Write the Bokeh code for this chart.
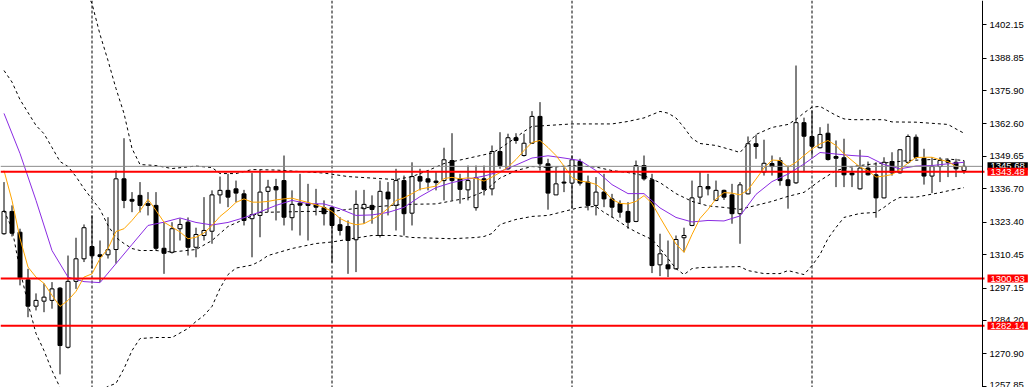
from bokeh.plotting import figure
from bokeh.models import Range1d, FixedTicker, PrintfTickFormatter, Span, Label, ColumnDataSource
from bokeh.embed import file_html
from bokeh.resources import INLINE

# ---------------- data ----------------
opens = [1318.8, 1327.7, 1319.4, 1300.4, 1289.9, 1291.9, 1292.2, 1297.1, 1273.5, 1299.8,
         1308.8, 1313.7, 1310.4, 1310.4, 1312.5, 1340.7, 1332.5, 1334.1, 1330.8, 1330.1,
         1313.0, 1311.4, 1320.8, 1323.4, 1313.4, 1318.1, 1319.8, 1334.3, 1336.1, 1336.7,
         1334.7, 1324.8, 1326.1, 1335.7, 1337.6, 1340.0, 1325.2, 1331.0, 1330.9, 1330.5,
         1329.2, 1329.2, 1322.4, 1321.7, 1316.4, 1328.8, 1330.1, 1318.1, 1335.4, 1330.1,
         1340.0, 1327.0, 1341.6, 1340.7, 1339.8, 1340.0, 1348.0, 1340.7, 1336.3, 1329.2,
         1340.7, 1336.7, 1351.6, 1344.7, 1357.1, 1350.0, 1354.9, 1365.6, 1346.7, 1334.3,
         1339.4, 1339.0, 1347.6, 1339.4, 1330.1, 1335.4, 1332.7, 1330.8, 1327.7, 1323.7,
         1346.0, 1340.3, 1306.4, 1306.4, 1304.8, 1317.2, 1322.1, 1333.4, 1337.6, 1332.1,
         1336.1, 1334.3, 1326.8, 1334.7, 1354.7, 1343.4, 1346.8, 1348.0, 1340.3, 1339.1,
         1363.1, 1357.6, 1353.1, 1358.9, 1349.6, 1349.1, 1343.0, 1336.7, 1345.0, 1342.3,
         1333.1, 1347.6, 1343.1, 1347.3, 1357.3, 1348.9, 1341.8, 1345.6, 1348.0, 1347.3,
         1344.0]
highs = [1339.4, 1330.1, 1320.8, 1304.8, 1295.0, 1299.0, 1299.5, 1297.5, 1310.1, 1317.2,
         1322.5, 1326.1, 1316.1, 1325.4, 1344.0, 1356.9, 1335.4, 1339.4, 1335.4, 1335.4,
         1323.3, 1323.4, 1324.9, 1325.3, 1321.2, 1333.4, 1336.1, 1341.6, 1342.7, 1340.0,
         1336.3, 1343.0, 1344.3, 1340.3, 1340.7, 1350.0, 1336.1, 1342.7, 1338.7, 1336.7,
         1332.1, 1329.5, 1325.4, 1324.1, 1336.1, 1336.3, 1334.1, 1340.0, 1339.4, 1344.7,
         1342.0, 1347.3, 1344.7, 1344.0, 1343.4, 1353.1, 1358.9, 1342.7, 1346.0, 1346.0,
         1346.0, 1354.0, 1359.3, 1358.7, 1358.9, 1358.7, 1367.7, 1371.3, 1348.7, 1345.3,
         1345.3, 1350.0, 1348.7, 1342.0, 1341.4, 1342.7, 1334.7, 1332.1, 1331.4, 1348.0,
         1350.0, 1342.7, 1318.8, 1316.1, 1318.1, 1321.2, 1340.0, 1343.4, 1342.7, 1340.0,
         1336.4, 1338.7, 1339.4, 1357.6, 1358.3, 1356.3, 1350.0, 1349.3, 1346.0, 1385.9,
         1365.1, 1368.0, 1361.3, 1362.7, 1356.0, 1356.7, 1345.3, 1352.3, 1347.6, 1347.3,
         1349.3, 1351.3, 1352.5, 1358.4, 1358.4, 1352.7, 1349.3, 1349.3, 1348.7, 1348.7,
         1348.0]
lows = [1318.4, 1317.7, 1298.2, 1285.5, 1288.2, 1287.5, 1288.9, 1262.7, 1273.0, 1296.8,
        1307.5, 1304.9, 1299.5, 1308.9, 1306.9, 1329.0, 1327.4, 1327.3, 1326.1, 1312.1,
        1302.8, 1310.9, 1316.1, 1310.1, 1309.4, 1316.1, 1314.8, 1330.8, 1329.4, 1331.4,
        1322.1, 1309.4, 1317.4, 1327.4, 1324.1, 1322.1, 1320.1, 1318.1, 1316.1, 1326.1,
        1322.1, 1307.3, 1318.1, 1302.8, 1303.5, 1322.8, 1322.8, 1317.3, 1326.1, 1320.1,
        1318.1, 1322.1, 1336.1, 1336.1, 1336.1, 1332.1, 1332.1, 1330.8, 1332.1, 1328.0,
        1334.1, 1334.1, 1344.7, 1344.3, 1354.7, 1349.6, 1354.8, 1344.0, 1328.4, 1334.2,
        1335.4, 1328.8, 1338.0, 1328.1, 1326.1, 1329.4, 1325.2, 1325.2, 1320.8, 1323.4,
        1340.0, 1303.1, 1301.9, 1301.5, 1304.5, 1311.4, 1321.8, 1330.8, 1334.1, 1331.8,
        1332.3, 1322.8, 1314.8, 1334.5, 1348.7, 1342.0, 1342.0, 1338.0, 1328.8, 1338.7,
        1343.4, 1350.0, 1352.8, 1348.0, 1337.4, 1337.4, 1337.4, 1336.4, 1342.0, 1325.2,
        1332.9, 1342.0, 1342.8, 1346.7, 1348.5, 1338.4, 1335.0, 1339.4, 1341.4, 1341.4,
        1342.7]
closes = [1327.7, 1319.0, 1301.2, 1289.9, 1292.2, 1293.5, 1296.8, 1274.2, 1299.8, 1308.8,
          1321.2, 1310.0, 1309.7, 1312.4, 1340.7, 1332.1, 1331.8, 1330.1, 1330.1, 1313.0,
          1311.0, 1320.8, 1322.5, 1313.4, 1318.5, 1320.1, 1334.3, 1336.1, 1333.4, 1335.0,
          1324.1, 1326.4, 1335.4, 1337.4, 1336.3, 1325.4, 1330.5, 1330.2, 1330.1, 1329.4,
          1326.8, 1322.1, 1320.1, 1316.1, 1330.5, 1330.5, 1328.5, 1335.7, 1332.7, 1340.0,
          1326.8, 1341.6, 1339.8, 1339.4, 1339.2, 1348.3, 1340.0, 1336.5, 1340.0, 1341.1,
          1336.5, 1351.6, 1346.0, 1357.1, 1356.0, 1354.9, 1365.6, 1346.7, 1335.0, 1338.7,
          1339.0, 1348.3, 1339.0, 1330.1, 1335.4, 1332.7, 1329.4, 1327.4, 1323.4, 1346.0,
          1340.7, 1306.1, 1310.8, 1304.8, 1316.5, 1318.1, 1333.1, 1337.6, 1336.7, 1336.1,
          1333.4, 1326.8, 1338.3, 1354.7, 1353.6, 1346.9, 1345.6, 1340.0, 1338.0, 1363.1,
          1357.7, 1353.7, 1358.4, 1348.4, 1348.9, 1342.3, 1342.3, 1345.0, 1342.3, 1333.1,
          1347.3, 1343.1, 1352.3, 1357.6, 1349.3, 1341.8, 1345.6, 1348.0, 1347.3, 1344.7,
          1345.68]

# fast moving average (orange), one value per bar
ma_fast = [1344.0, 1332.1, 1316.9, 1305.5, 1301.5, 1299.0, 1294.2, 1289.8, 1292.2, 1295.8,
           1301.5, 1302.8, 1308.9, 1312.9, 1319.7, 1320.8, 1324.1, 1327.9, 1332.5, 1328.1,
           1323.4, 1321.5, 1319.5, 1316.8, 1317.4, 1319.1, 1322.1, 1325.7, 1328.3, 1331.3,
           1332.7, 1331.4, 1331.4, 1331.7, 1332.3, 1332.7, 1333.0, 1332.1, 1331.3, 1330.3,
           1329.3, 1327.7, 1324.9, 1323.3, 1322.4, 1322.8, 1324.5, 1326.3, 1328.9, 1332.1,
           1333.1, 1334.8, 1336.6, 1337.2, 1337.8, 1340.8, 1341.3, 1340.7, 1341.1, 1340.8,
           1339.8, 1341.4, 1343.2, 1345.4, 1348.4, 1352.0, 1355.2, 1356.0, 1353.2, 1350.0,
           1345.8, 1341.2, 1339.8, 1339.4, 1338.5, 1336.0, 1332.5, 1330.9, 1330.7, 1331.7,
           1334.0, 1330.9, 1325.3, 1319.9, 1314.7, 1311.4, 1318.5, 1324.9, 1328.5, 1332.7,
           1335.2, 1335.0, 1334.3, 1336.3, 1340.6, 1345.0, 1348.2, 1348.0, 1345.4, 1347.3,
           1350.0, 1352.6, 1354.6, 1356.0, 1354.0, 1350.7, 1348.0, 1345.4, 1344.0, 1341.4,
           1341.8, 1342.4, 1344.4, 1347.0, 1349.2, 1349.3, 1349.3, 1348.3, 1347.6, 1345.6,
           1345.6]

# slow moving average (purple), read every second bar
ma_slow_bars = list(range(0, 121, 2))
ma_slow = [1366.8, 1350.8, 1332.1, 1312.1, 1301.5, 1299.7, 1299.3, 1306.9, 1314.5, 1322.1,
           1323.4, 1325.1, 1323.3, 1322.3, 1323.3, 1325.2, 1327.5, 1330.1, 1332.1, 1330.8,
           1330.7, 1328.7, 1326.1, 1326.3, 1327.3, 1329.3, 1333.6, 1337.2, 1339.2, 1340.6,
           1341.8, 1343.6, 1346.2, 1349.0, 1349.9, 1349.0, 1348.0, 1344.0, 1338.4, 1334.8,
           1334.8, 1329.1, 1325.3, 1323.5, 1324.1, 1323.9, 1325.9, 1334.5, 1339.6, 1342.6,
           1346.6, 1351.2, 1350.6, 1350.0, 1349.6, 1346.4, 1344.7, 1345.8, 1346.0, 1346.7,
           1347.3]

# Bollinger bands (dashed), read at the bars listed
bb_up_bars = [0, 4, 7, 9, 11, 12, 13, 14, 15, 16, 17, 19, 21, 24, 26, 27, 29, 31, 34, 37,
              40, 43, 46, 49, 51, 53, 55, 57, 59, 61, 62, 63, 64, 65, 66, 68, 71, 74, 76, 78,
              80, 82, 83, 84, 85, 86, 87, 89, 91, 92, 93, 94, 96, 98, 99, 100, 101, 102, 103, 104,
              105, 106, 110, 111, 114, 118, 119, 120]
bb_up = [1439.8, 1445.7, 1437.0, 1423.8, 1410.6, 1398.3, 1387.9, 1376.7, 1366.8, 1352.8,
         1346.4, 1346.0, 1344.8, 1345.8, 1345.2, 1342.8, 1342.8, 1344.4, 1344.2, 1343.6,
         1343.0, 1341.6, 1341.0, 1340.4, 1341.6, 1344.0, 1346.8, 1348.2, 1349.6, 1351.0,
         1352.8, 1355.0, 1357.2, 1359.6, 1361.6, 1362.0, 1362.6, 1362.6, 1362.6, 1363.6,
         1365.0, 1367.6, 1366.9, 1365.0, 1361.2, 1356.8, 1354.8, 1354.0, 1352.2, 1351.2,
         1354.8, 1358.4, 1361.2, 1362.4, 1364.4, 1367.0, 1369.3, 1369.6, 1367.8, 1366.0,
         1364.6, 1364.3, 1364.3, 1363.4, 1363.3, 1362.4, 1360.6, 1358.9]
bb_mid_bars = [0, 1, 2, 4, 5, 6, 7, 8, 9, 10, 11, 12, 13, 14, 15, 16, 17, 19, 21, 24,
               26, 28, 30, 32, 35, 38, 41, 44, 47, 50, 54, 56, 58, 60, 62, 64, 66, 68, 71, 74,
               76, 78, 80, 82, 84, 86, 88, 90, 92, 94, 96, 98, 100, 102, 104, 106, 108, 110, 113, 116,
               118, 120]
bb_mid = [1383.9, 1379.3, 1372.3, 1362.0, 1358.7, 1353.2, 1347.6, 1345.6, 1341.6, 1336.8,
          1332.6, 1328.5, 1322.1, 1317.3, 1314.9, 1312.9, 1312.1, 1312.1, 1311.5, 1312.5,
          1316.1, 1321.7, 1324.5, 1327.3, 1327.5, 1327.7, 1327.7, 1328.9, 1329.7, 1330.5,
          1330.7, 1331.9, 1333.1, 1335.6, 1341.0, 1344.0, 1345.6, 1345.2, 1346.0, 1345.4,
          1344.0, 1343.2, 1342.0, 1339.2, 1334.8, 1331.7, 1329.9, 1329.3, 1328.5, 1330.1,
          1331.7, 1333.7, 1335.3, 1340.0, 1344.0, 1345.6, 1346.4, 1347.0, 1348.0, 1348.4,
          1348.6, 1348.0]
bb_low_bars = [0, 1, 2, 3, 4, 5, 6, 7, 9, 11, 13, 14, 15, 16, 17, 19, 21, 23, 24, 25,
               26, 27, 28, 29, 31, 32, 33, 36, 39, 41, 44, 46, 49, 51, 56, 59, 60, 61, 62, 64,
               66, 68, 70, 72, 74, 75, 76, 78, 79, 81, 82, 83, 84, 85, 86, 87, 92, 93, 95, 97,
               98, 99, 100, 101, 102, 103, 104, 105, 107, 109, 110, 111, 112, 114, 117, 119, 120]
bb_low = [1328.1, 1320.9, 1304.1, 1291.0, 1279.0, 1272.2, 1264.2, 1257.5, 1252.3, 1253.8,
          1257.9, 1259.1, 1265.0, 1272.2, 1277.0, 1277.4, 1277.4, 1281.0, 1283.8, 1286.2,
          1289.8, 1297.0, 1302.5, 1305.1, 1306.3, 1307.9, 1310.1, 1312.9, 1314.9, 1315.5,
          1317.1, 1318.1, 1318.1, 1317.3, 1316.8, 1317.3, 1317.7, 1318.9, 1322.5, 1324.5,
          1325.7, 1326.1, 1327.7, 1329.3, 1329.7, 1327.3, 1325.5, 1321.3, 1319.5, 1316.5,
          1313.0, 1308.9, 1304.9, 1302.5, 1304.9, 1305.3, 1305.7, 1304.1, 1302.9, 1302.9,
          1304.1, 1303.3, 1302.5, 1306.1, 1310.5, 1316.9, 1321.3, 1325.3, 1326.9, 1327.3,
          1329.3, 1331.7, 1333.3, 1333.4, 1335.2, 1336.6, 1337.2]

price_ticks = [1402.15, 1388.85, 1375.90, 1362.60, 1349.65, 1336.70, 1323.40,
               1310.45, 1297.15, 1284.20, 1270.90, 1257.85]
level_lines = [1343.48, 1300.93, 1282.14]
last_price = 1345.68
separator_bars = [11, 41, 71, 101]

# ---------------- figure ----------------
X0 = -0.4375                 # left edge of the chart (bars are 8 px apart)
AXIS_X = X0 + 982 / 8        # where the price scale sits
X1 = X0 + 1029 / 8           # right edge of the window

bars = list(range(len(opens)))
src = ColumnDataSource(dict(
    x=bars, h=highs, l=lows,
    top=[max(o, c) for o, c in zip(opens, closes)],
    bottom=[min(o, c) for o, c in zip(opens, closes)],
    fill=["white" if c >= o else "black" for o, c in zip(opens, closes)],
))

p = figure(frame_width=1029, frame_height=387, output_backend="svg", toolbar_location=None,
           x_range=Range1d(X0, X1), y_range=Range1d(1257.46, 1411.84),
           x_axis_location=None, y_axis_location="right", min_border=0)
p.grid.visible = False
p.outline_line_color = None
p.background_fill_color = "white"
p.border_fill_color = "white"

ax = p.yaxis[0]
ax.fixed_location = AXIS_X
ax.ticker = FixedTicker(ticks=price_ticks)
ax.formatter = PrintfTickFormatter(format="%.2f")
ax.major_tick_in = 0
ax.major_tick_out = 4
ax.minor_tick_in = 0
ax.minor_tick_out = 0
ax.major_label_standoff = 3
ax.major_label_text_font = "Liberation Sans"
ax.major_label_text_font_size = "9.5px"
ax.major_label_text_color = "black"
ax.axis_line_color = "black"
ax.major_tick_line_color = "black"

for b in separator_bars:
    p.add_layout(Span(location=b, dimension="height", line_color="black",
                      line_width=1, line_dash="3 2", level="underlay"))

p.segment(x0="x", y0="l", x1="x", y1="h", source=src, line_color="black", line_width=1)
p.vbar(x="x", width=0.5, top="top", bottom="bottom", source=src,
       fill_color="fill", line_color="black", line_width=1)

for bx, by in ((bb_up_bars, bb_up), (bb_mid_bars, bb_mid), (bb_low_bars, bb_low)):
    p.line(bx, by, line_color="black", line_width=1, line_dash="3 3")

p.line(ma_slow_bars, ma_slow, line_color="#8A2BE2", line_width=1)
p.line(bars, ma_fast, line_color="#FFA500", line_width=1)

# horizontal price lines, drawn up to the price scale
p.segment(x0=[X0], x1=[AXIS_X], y0=[last_price], y1=[last_price],
          line_color="#8c8c8c", line_width=1)
p.segment(x0=[X0] * len(level_lines), x1=[AXIS_X + 0.25] * len(level_lines),
          y0=level_lines, y1=level_lines, line_color="#ff0000", line_width=2)


def tag(val, bg):
    return Label(x=AXIS_X, y=val, text=f"{val:.2f}", x_offset=5,
                 text_baseline="middle", text_align="left", text_color="white",
                 text_font="Liberation Sans", text_font_size="9.5px",
                 background_fill_color=bg, padding=(3, 1))


p.add_layout(tag(last_price, "black"))
for lv in level_lines:
    p.add_layout(tag(lv, "#ff0000"))

open("out.html", "w").write(file_html(p, INLINE))
